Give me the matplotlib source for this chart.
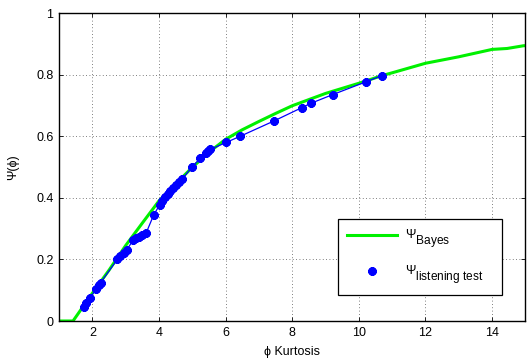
import matplotlib
matplotlib.use("Agg")
import matplotlib.pyplot as plt
import matplotlib._mathtext as _mt

_mt.SHRINK_FACTOR = 0.95
_mt.FontConstantsBase.sub1 = 0.9
_mt.FontConstantsBase.sub2 = 0.9

plt.rcParams['font.family'] = ['Liberation Sans', 'DejaVu Sans']
plt.rcParams['mathtext.fontset'] = 'custom'
plt.rcParams['mathtext.rm'] = 'Liberation Sans'
plt.rcParams['mathtext.it'] = 'Liberation Sans'

# Bayes model curve
bayes_x = [1.0, 1.42, 2.0, 2.5, 3.0, 3.5, 4.0, 4.5, 5.0, 5.5, 6.0, 6.5, 7.0, 7.5, 8.0, 9.0,
           10.0, 10.7, 11.0, 12.0, 13.0, 14.0, 14.45, 14.95, 15.0]
bayes_y = [0.0, 0.0, 0.09, 0.165, 0.245, 0.318, 0.39, 0.445, 0.499, 0.548, 0.59, 0.621, 0.648,
           0.674, 0.699, 0.739, 0.772, 0.797, 0.806, 0.837, 0.858, 0.882, 0.885, 0.894, 0.894]

# listening test points
test_x = [1.74, 1.82, 1.92, 2.12, 2.19, 2.25, 2.75, 2.84, 2.94, 3.04, 3.22, 3.31, 3.40, 3.50,
          3.62, 3.84, 4.02, 4.10, 4.18, 4.26, 4.33, 4.42, 4.50, 4.60, 4.69, 4.99, 5.24,
          5.40, 5.48, 5.54, 6.02, 6.44, 7.46, 8.29, 8.56, 9.21, 10.22, 10.69]
test_y = [0.044, 0.058, 0.074, 0.105, 0.117, 0.125, 0.20, 0.212, 0.22, 0.232, 0.262, 0.268,
          0.274, 0.280, 0.287, 0.344, 0.377, 0.390, 0.403, 0.413, 0.421, 0.432, 0.442, 0.452,
          0.460, 0.50, 0.528, 0.545, 0.551, 0.557, 0.58, 0.60, 0.65, 0.693, 0.707, 0.735,
          0.777, 0.797]

x_ticks = [2, 4, 6, 8, 10, 12, 14]
y_ticks = [0, 0.2, 0.4, 0.6, 0.8, 1.0]
y_ticklabels = ['0', '0.2', '0.4', '0.6', '0.8', '1']

fig = plt.figure(figsize=(5.27, 3.63), dpi=100)
ax = fig.add_axes([0.112, 0.1157, 0.885, 0.8483])

ax.plot(test_x, test_y, color='#0000ff', lw=0.9, zorder=3)
ax.plot(test_x, test_y, ls='none', marker=(8, 2, 0), ms=6, mew=2.1, color='#0000ff',
        label=r'$\Psi_{\mathrm{listening\ test}}$', zorder=4)
ax.plot(bayes_x, bayes_y, color='#00f000', lw=2.2, label=r'$\Psi_{\mathrm{Bayes}}$', zorder=2)

ax.set_xlim(1, 15)
ax.set_ylim(0, 1)
ax.set_xticks(x_ticks)
ax.set_yticks(y_ticks)
ax.set_yticklabels(y_ticklabels)
ax.tick_params(direction='in', labelsize=9, length=3, width=0.6, top=True, right=True, pad=4)
ax.grid(True, ls=(0, (1, 3)), color='#555555', lw=0.6)
for s in ax.spines.values():
    s.set_linewidth(1.0)

ax.set_xlabel('ϕ Kurtosis', fontsize=9, labelpad=5)
ax.set_ylabel('Ψ(ϕ)', fontsize=9, labelpad=12)

h, l = ax.get_legend_handles_labels()
leg = ax.legend([h[1], h[0]], [l[1], l[0]], loc='lower left', bbox_to_anchor=(0.599, 0.084, 0.351, 0.236),
                mode='expand', borderaxespad=0, fontsize=9, handlelength=4.0, handletextpad=0.6,
                fancybox=False, framealpha=1, edgecolor='black', borderpad=0.7, labelspacing=1.1)
leg.get_frame().set_linewidth(0.9)

fig.savefig('out.png', dpi=100)
